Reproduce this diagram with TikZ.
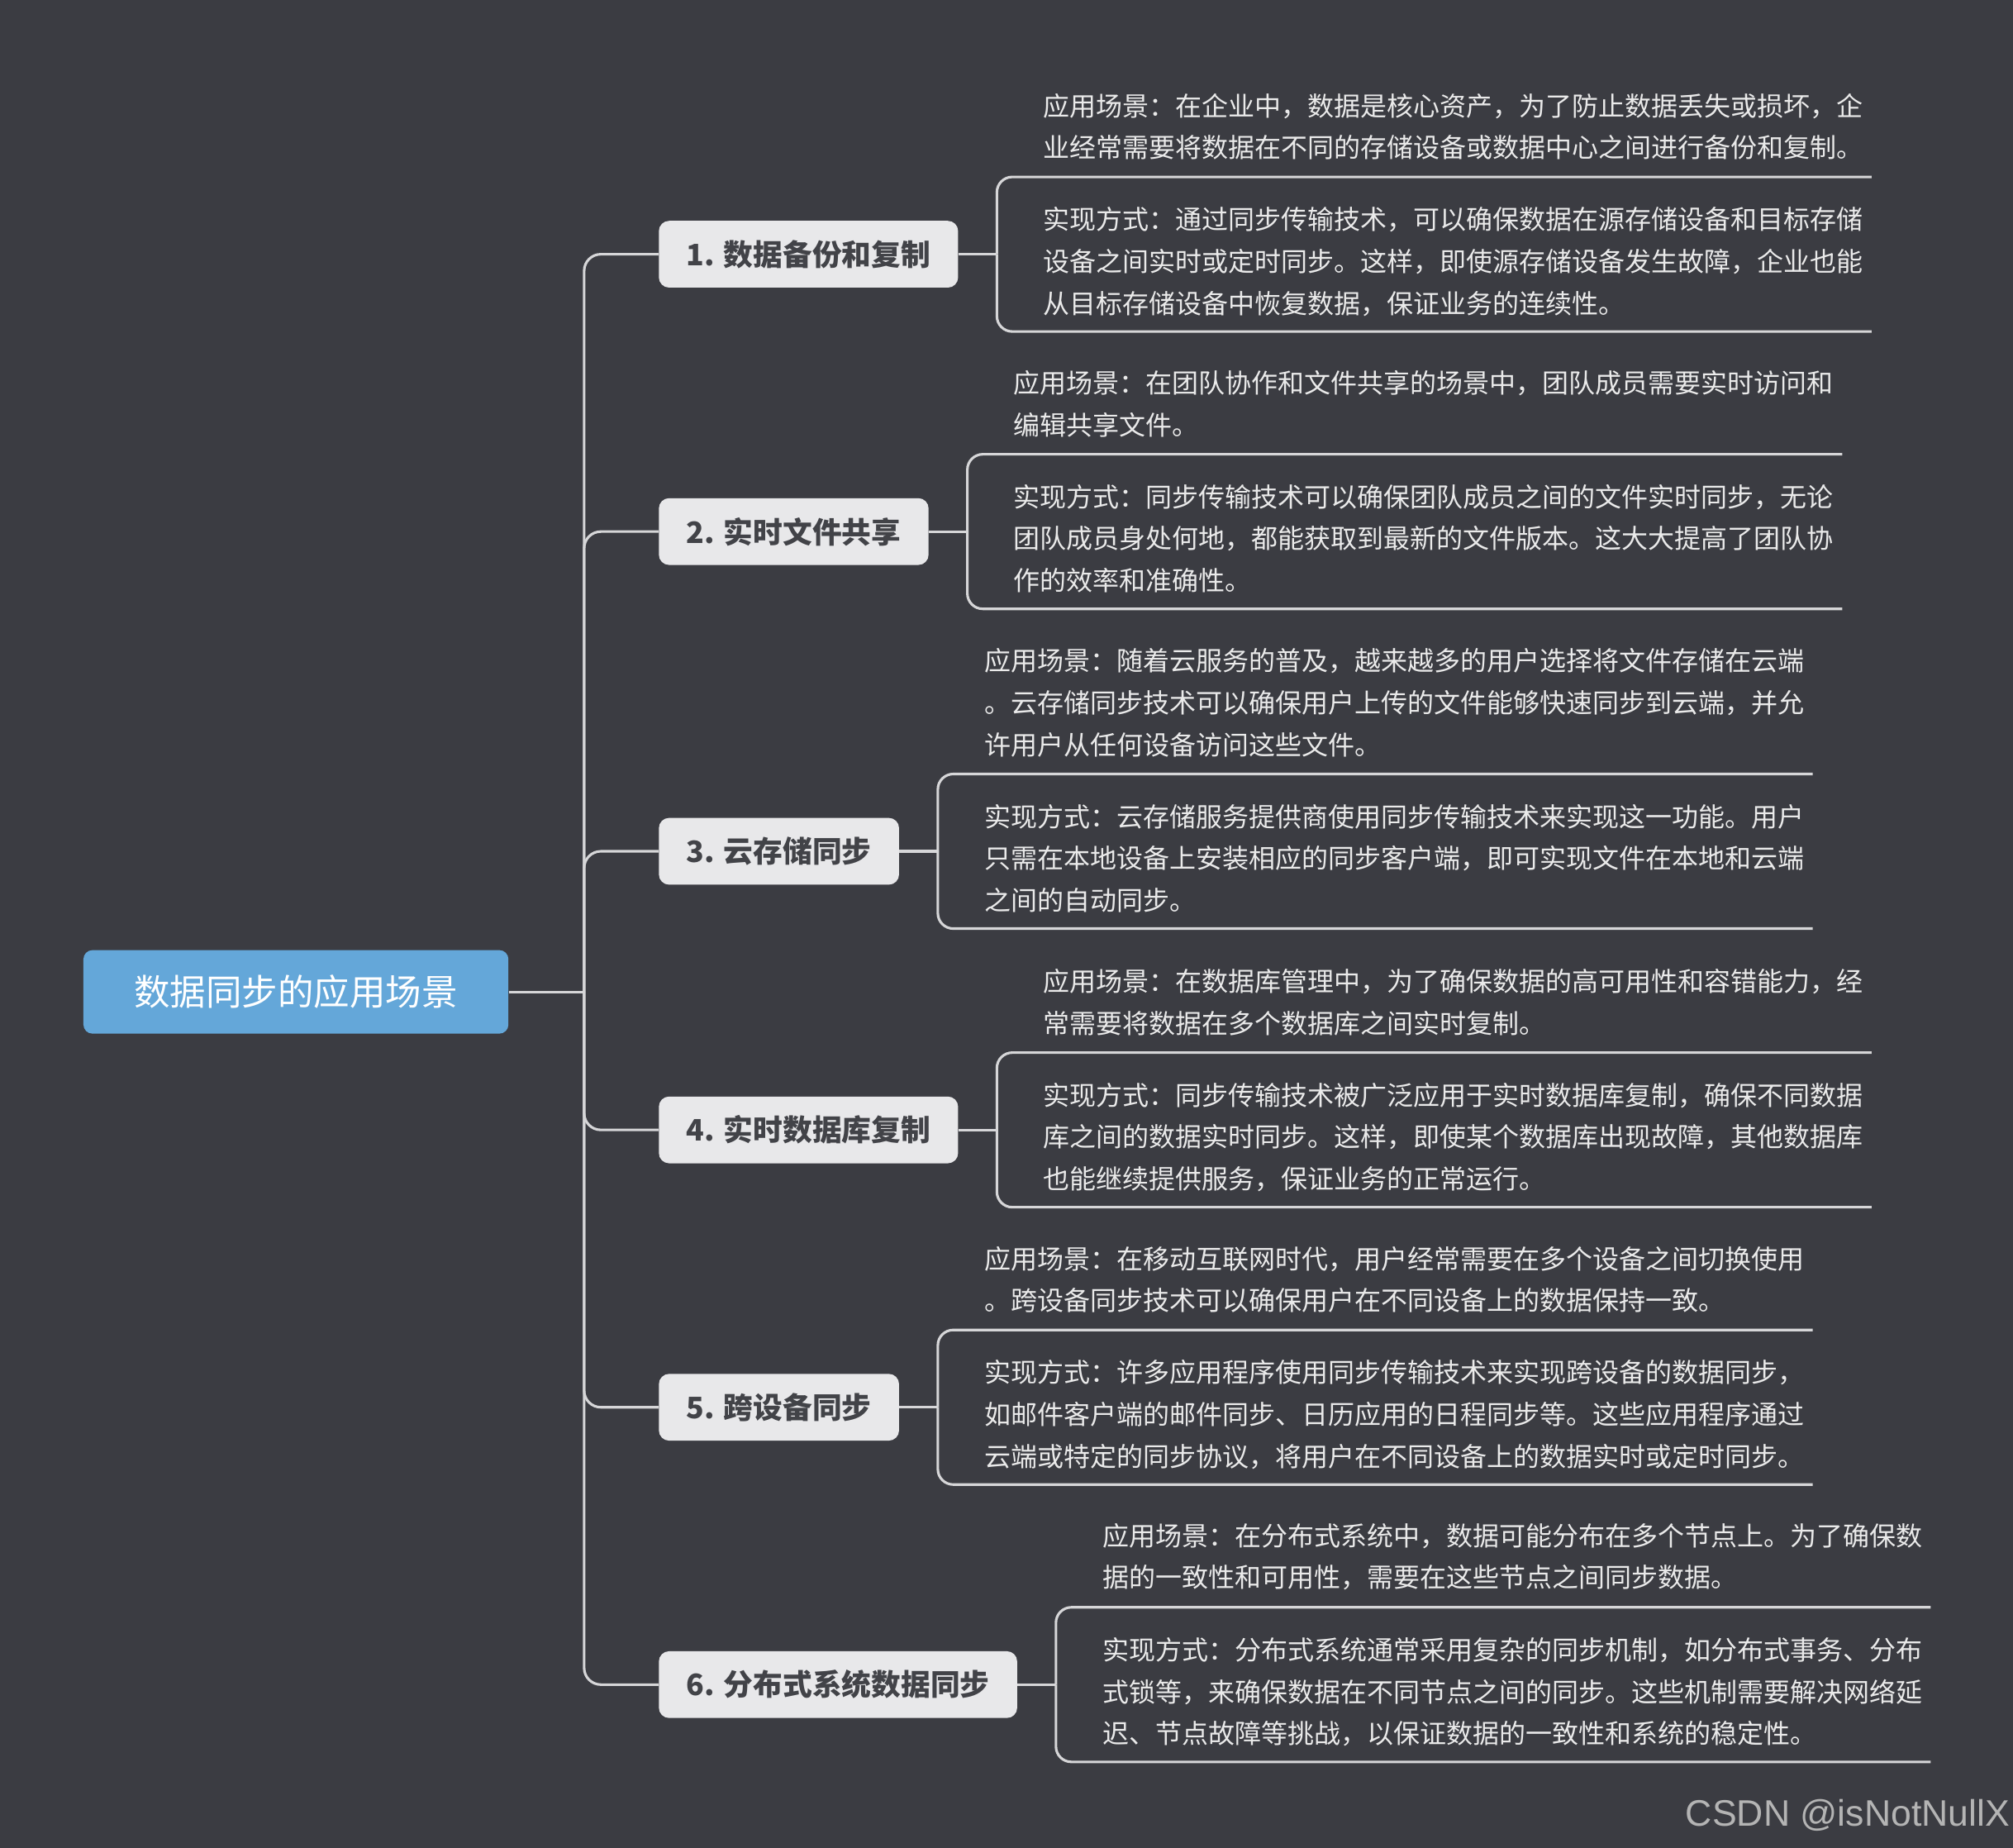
\documentclass[tikz,border=0pt]{standalone}
\usepackage{fontspec}
\setmainfont{Liberation Sans}
\newfontfamily\cjk{Noto Sans CJK SC}
\usepackage{tikz}
\usetikzlibrary{positioning}

\definecolor{bgcol}{RGB}{59,60,66}
\definecolor{rootfill}{RGB}{100,167,217}
\definecolor{topicfill}{RGB}{232,232,234}
\definecolor{topictext}{RGB}{66,67,72}
\definecolor{linecol}{RGB}{214,214,216}
\definecolor{notetext}{RGB}{234,234,234}
\definecolor{signtext}{RGB}{180,180,180}

\begin{document}
\begin{tikzpicture}[
    x=1pt, y=-1pt,
    root/.style={rectangle, rounded corners=7pt, fill=rootfill, text=white, minimum width=331pt, minimum height=65pt, font=\cjk\fontsize{28}{34}\selectfont},
    topic/.style={rectangle, rounded corners=8pt, fill=topicfill, text=topictext, minimum height=52pt, inner xsep=21.5pt, font=\cjk\bfseries\fontsize{23}{28}\selectfont},
    scene/.style={text width=645pt, align=left, inner xsep=0pt, inner ysep=0pt, text=notetext, font=\cjk\fontsize{20.6}{32.6}\selectfont},
    impl/.style={scene, text height=40.8pt, text depth=79.2pt},
    conn/.style={draw=linecol, line width=2pt},
    bracket/.style={conn, rounded corners=12pt},
    sign/.style={text=signtext, font=\fontsize{28.7}{34}\selectfont}
]
\fill[bgcol] (0,0) rectangle (1568,1439);
\useasboundingbox (0,0) rectangle (1568,1439);

% ============================================================
% ROOT + MAIN TOPICS
% ============================================================
\node[root] (root) at (230.5,772.5) {数据同步的应用场景};
\coordinate (hub) at (455,772.5);

\node[topic, anchor=west] (b1) at (513,198)  {1. 数据备份和复制};
\node[topic, anchor=west] (b2) at (513,414)  {2. 实时文件共享};
\node[topic, anchor=west] (b3) at (513,663)  {3. 云存储同步};
\node[topic, anchor=west] (b4) at (513,880)  {4. 实时数据库复制};
\node[topic, anchor=west] (b5) at (513,1096) {5. 跨设备同步};
\node[topic, anchor=west] (b6) at (513,1312) {6. 分布式系统数据同步};

% ============================================================
% DETAILS — implementation first, scene sits on top of it
% ============================================================
\node[impl, right=66pt of b1] (i1) {实现方式：通过同步传输技术，可以确保数据在源存储设备和目标存储\\设备之间实时或定时同步。这样，即使源存储设备发生故障，企业也能\\从目标存储设备中恢复数据，保证业务的连续性。};
\node[scene, above=13pt of i1.north west, anchor=south west] (s1) {应用场景：在企业中，数据是核心资产，为了防止数据丢失或损坏，企\\业经常需要将数据在不同的存储设备或数据中心之间进行备份和复制。};

\node[impl, right=66pt of b2] (i2) {实现方式：同步传输技术可以确保团队成员之间的文件实时同步，无论\\团队成员身处何地，都能获取到最新的文件版本。这大大提高了团队协\\作的效率和准确性。};
\node[scene, above=13pt of i2.north west, anchor=south west] (s2) {应用场景：在团队协作和文件共享的场景中，团队成员需要实时访问和\\编辑共享文件。};

\node[impl, right=66pt of b3] (i3) {实现方式：云存储服务提供商使用同步传输技术来实现这一功能。用户\\只需在本地设备上安装相应的同步客户端，即可实现文件在本地和云端\\之间的自动同步。};
\node[scene, above=13pt of i3.north west, anchor=south west] (s3) {应用场景：随着云服务的普及，越来越多的用户选择将文件存储在云端\\。云存储同步技术可以确保用户上传的文件能够快速同步到云端，并允\\许用户从任何设备访问这些文件。};

\node[impl, right=66pt of b4] (i4) {实现方式：同步传输技术被广泛应用于实时数据库复制，确保不同数据\\库之间的数据实时同步。这样，即使某个数据库出现故障，其他数据库\\也能继续提供服务，保证业务的正常运行。};
\node[scene, above=13pt of i4.north west, anchor=south west] (s4) {应用场景：在数据库管理中，为了确保数据的高可用性和容错能力，经\\常需要将数据在多个数据库之间实时复制。};

\node[impl, right=66pt of b5] (i5) {实现方式：许多应用程序使用同步传输技术来实现跨设备的数据同步，\\如邮件客户端的邮件同步、日历应用的日程同步等。这些应用程序通过\\云端或特定的同步协议，将用户在不同设备上的数据实时或定时同步。};
\node[scene, above=13pt of i5.north west, anchor=south west] (s5) {应用场景：在移动互联网时代，用户经常需要在多个设备之间切换使用\\。跨设备同步技术可以确保用户在不同设备上的数据保持一致。};

\node[impl, right=66pt of b6] (i6) {实现方式：分布式系统通常采用复杂的同步机制，如分布式事务、分布\\式锁等，来确保数据在不同节点之间的同步。这些机制需要解决网络延\\迟、节点故障等挑战，以保证数据的一致性和系统的稳定性。};
\node[scene, above=13pt of i6.north west, anchor=south west] (s6) {应用场景：在分布式系统中，数据可能分布在多个节点上。为了确保数\\据的一致性和可用性，需要在这些节点之间同步数据。};

\node[sign, anchor=base east] (sign) at (1569,1422) {CSDN @isNotNullX};

% ============================================================
% CONNECTORS
% ============================================================
\draw[conn] (root.east) -- (hub);
\draw[conn, rounded corners=13pt] (hub) |- (b1.west);
\draw[conn, rounded corners=13pt] (hub) |- (b2.west);
\draw[conn, rounded corners=13pt] (hub) |- (b3.west);
\draw[conn, rounded corners=13pt] (hub) |- (b4.west);
\draw[conn, rounded corners=13pt] (hub) |- (b5.west);
\draw[conn, rounded corners=13pt] (hub) |- (b6.west);

\coordinate[right=30pt of b1.east] (j1);
\coordinate[right=30pt of b2.east] (j2);
\coordinate[right=30pt of b3.east] (j3);
\coordinate[right=30pt of b4.east] (j4);
\coordinate[right=30pt of b5.east] (j5);
\coordinate[right=30pt of b6.east] (j6);

\draw[conn] (b1.east) -- (j1);
\draw[bracket] (j1) |- (i1.north east);
\draw[bracket] (j1) |- (i1.south east);

\draw[conn] (b2.east) -- (j2);
\draw[bracket] (j2) |- (i2.north east);
\draw[bracket] (j2) |- (i2.south east);

\draw[conn] (b3.east) -- (j3);
\draw[bracket] (j3) |- (i3.north east);
\draw[bracket] (j3) |- (i3.south east);

\draw[conn] (b4.east) -- (j4);
\draw[bracket] (j4) |- (i4.north east);
\draw[bracket] (j4) |- (i4.south east);

\draw[conn] (b5.east) -- (j5);
\draw[bracket] (j5) |- (i5.north east);
\draw[bracket] (j5) |- (i5.south east);

\draw[conn] (b6.east) -- (j6);
\draw[bracket] (j6) |- (i6.north east);
\draw[bracket] (j6) |- (i6.south east);

\end{tikzpicture}
\end{document}
